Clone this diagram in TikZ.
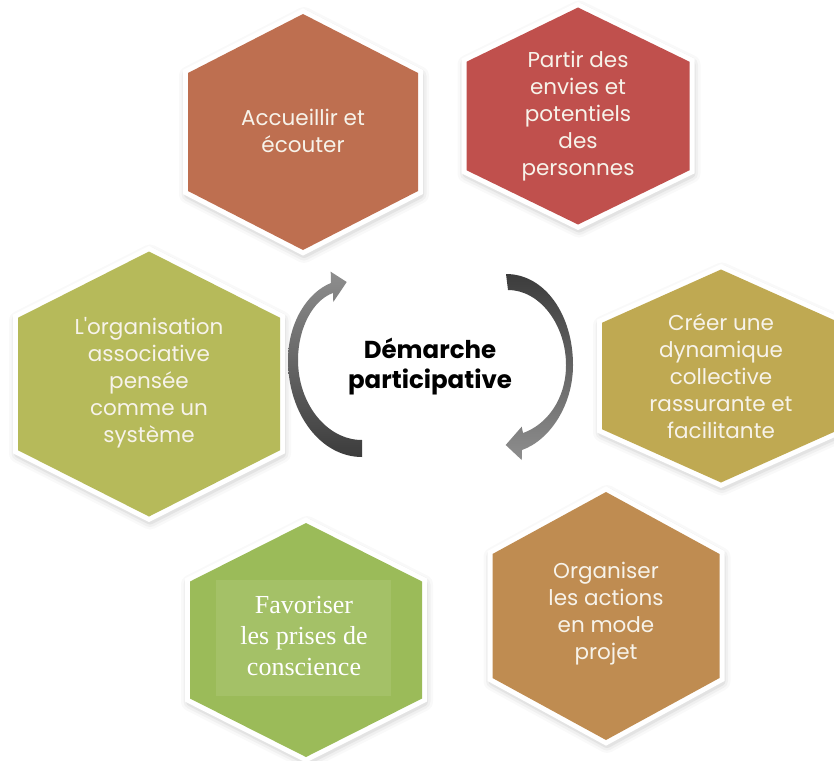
\documentclass[tikz,border=0pt]{standalone}
\usepackage{fontspec}
\newfontfamily\hexfont{Poppins}
\newfontfamily\serfont{Liberation Serif}
\definecolor{cA}{HTML}{BE6F50}
\definecolor{cB}{HTML}{C0504D}
\definecolor{cC}{HTML}{B6BA5A}
\definecolor{cD}{HTML}{BFA952}
\definecolor{cE}{HTML}{9BBB59}
\definecolor{cF}{HTML}{BF8C51}
\definecolor{favrect}{HTML}{A4C167}
\definecolor{txt}{HTML}{F7F3EA}
\definecolor{arrdark}{HTML}{3C3C3C}
\definecolor{arrlight}{HTML}{8E8E8E}
\tikzset{
  hextext/.style={text=txt, align=center, inner sep=0pt, font=\hexfont\fontsize{21.5}{27}\selectfont},
  sertext/.style={text=white, align=center, inner sep=0pt, font=\serfont\fontsize{26}{31}\selectfont},
  centertext/.style={text=black, align=center, inner sep=0pt, font=\hexfont\bfseries\fontsize{24.5}{30}\selectfont},
}
\newcommand\hexa[5]{% cx cy hw hh color
 \begin{scope}[shift={(#1,#2)}]
  \foreach \w/\o in {20/0.025,15/0.035,10/0.05}{
   \filldraw[black, opacity=\o, line width=\w pt, line join=round, shift={(1,3)}]
     (0,-#4) -- (#3,-#4/2) -- (#3,#4/2) -- (0,#4) -- (-#3,#4/2) -- (-#3,-#4/2) -- cycle;}
  \filldraw[white, line width=10pt, line join=miter]
     (0,-#4) -- (#3,-#4/2) -- (#3,#4/2) -- (0,#4) -- (-#3,#4/2) -- (-#3,-#4/2) -- cycle;
  \fill[#5]
     (0,-#4) -- (#3,-#4/2) -- (#3,#4/2) -- (0,#4) -- (-#3,#4/2) -- (-#3,-#4/2) -- cycle;
 \end{scope}}
\begin{document}
\begin{tikzpicture}[x=1pt,y=-1pt]
\useasboundingbox (0,0) rectangle (834,760);
\clip (0,0) rectangle (834,760);
\fill[white] (0,0) rectangle (834,760);
% hexagons
\hexa{303}{132}{115}{118}{cA}
\hexa{578}{116}{111.5}{108.5}{cB}
\hexa{149}{384}{131}{132.5}{cC}
\hexa{721}{376}{119}{106.5}{cD}
\hexa{306}{640}{116}{117}{cE}
\hexa{606}{616}{113.5}{124}{cF}
\fill[favrect] (216,580) rectangle (391,696);
% texts
\node[hextext] (t1) at (303,131) {Accueillir et\\écouter};
\node[hextext] (t2) at (578,116) {Partir des\\envies et\\potentiels\\des\\personnes};
\node[hextext] (t3) at (149,383) {L'organisation\\associative\\pensée\\comme un\\système};
\node[hextext] (t4) at (721,376) {Créer une\\dynamique\\collective\\rassurante et\\facilitante};
\node[sertext] (t5) at (304,636) {Favoriser\\les prises de\\conscience};
\node[hextext] (t6) at (606,614) {Organiser\\les actions\\en mode\\projet};
\node[centertext] (c) at (430,367) {Démarche\\participative};
% circular arrows
\shade[top color=arrlight, bottom color=arrdark]
 (362,457) .. controls (321,457) and (288,414) .. (288,360)
 .. controls (288,322) and (308,292) .. (331,283)
 -- (330.7,271.7) -- (346.7,282) -- (333.3,302) -- (333,293)
 .. controls (313,300) and (298,328) .. (298,360)
 .. controls (298,404) and (327,440) .. (362,440) -- cycle;
\shade[top color=arrdark, bottom color=arrlight]
 (506,274) .. controls (545,274) and (573,315) .. (573,365)
 .. controls (573,405) and (550,440) .. (522,450)
 -- (521.7,460) -- (505.7,445) -- (521.7,426.7) -- (523,433)
 .. controls (546,425) and (566,400) .. (566,365)
 .. controls (566,325) and (540,290) .. (508,290) -- cycle;
\end{tikzpicture}
\end{document}
